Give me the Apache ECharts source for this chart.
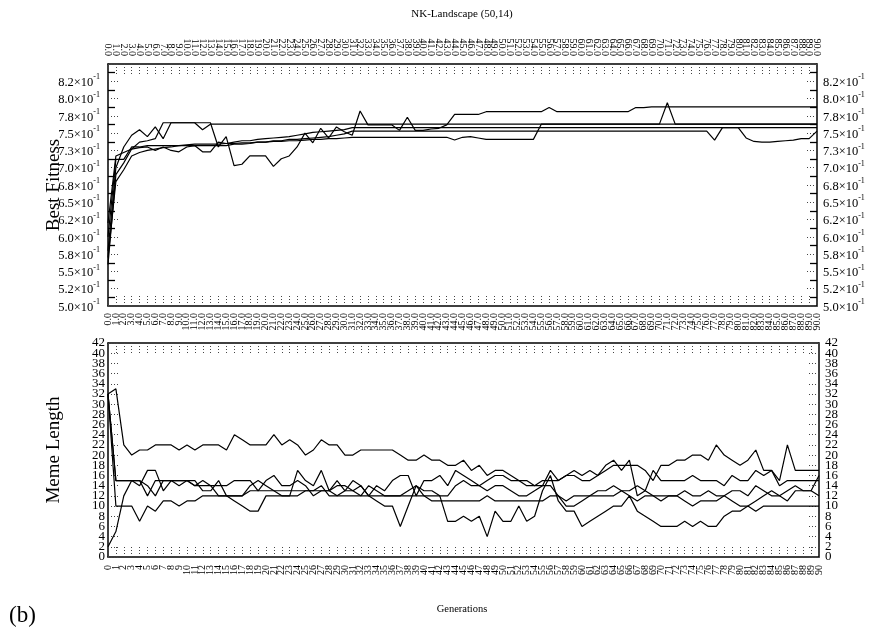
<!DOCTYPE html>
<html>
<head>
<meta charset="utf-8">
<script src="https://cdn.jsdelivr.net/npm/echarts@6.0.0/dist/echarts.min.js"></script>
<style>
html,body{margin:0;padding:0;background:#fff;}
#chart{width:869px;height:634px;}
</style>
</head>
<body>
<div id="chart"></div>
<script>
// ---------------- data ----------------
const generations = [];
for (let g = 0; g <= 90; g++) generations.push(g);
const topTickLabels = generations.map(g => g.toFixed(1));
const bottomTickLabels = generations.map(g => String(g));

const fitnessTickLabels = ['5.0','5.2','5.5','5.8','6.0','6.2','6.5','6.8','7.0','7.3','7.5','7.8','8.0','8.2'];
const memeTickLabelsA = [0,4,8,12,16,20,24,28,32,36,40];
const memeTickLabelsB = [2,6,10,14,18,22,26,30,34,38,42];

const fitness1 = [0.58,0.70,0.730,0.747,0.755,0.745,0.759,0.742,0.765,0.765,0.765,0.765,0.755,0.763,
0.763,0.763,0.763,0.763,0.763,0.763,0.763,0.763,0.763,0.763,0.763,0.763,0.763,0.763,0.763,0.763,
0.763,0.763,0.763,0.763,0.763,0.763,0.763,0.763,0.763,0.763,0.763,0.763,0.763,0.763,0.763,0.763,
0.763,0.763,0.763,0.763,0.763,0.763,0.763,0.763,0.763,0.763,0.763,0.763,0.763,0.763,0.763,0.763,
0.763,0.763,0.763,0.763,0.763,0.763,0.763,0.763,0.763,0.794,0.763,0.763,0.763,0.763,0.763,0.763,
0.763,0.763,0.763,0.763,0.763,0.763,0.763,0.763,0.763,0.763,0.763,0.763,0.763];
const fitness2 = [0.56,0.69,0.707,0.727,0.737,0.739,0.742,0.765,0.765,0.765,0.765,0.765,0.765,0.765,
0.730,0.745,0.703,0.705,0.717,0.717,0.717,0.702,0.713,0.717,0.730,0.750,0.736,0.757,0.743,0.759,0.752,0.747,
0.782,0.762,0.762,0.762,0.762,0.754,0.773,0.754,0.754,0.756,0.757,0.762,
0.777,0.777,0.777,0.777,0.781,0.781,0.781,0.781,0.781,0.781,0.781,0.781,
0.787,
0.781,0.781,0.781,0.781,0.781,0.781,0.781,0.781,0.781,0.781,
0.787,0.787,
0.788,0.788,0.788,0.788,0.788,0.788,0.788,0.788,0.788,0.788,0.788,0.788,0.788,0.788,0.788,0.788,0.788,0.788,0.788,0.788,0.788,0.788];
const fitness3 = [0.60,0.712,0.712,0.730,0.730,
0.732,0.732,0.732,0.732,0.732,0.732,0.732,0.732,0.732,0.732,0.732,
0.734,0.734,0.735,0.737,0.737,0.739,0.739,0.741,0.741,0.742,0.743,0.744,0.745,0.747,0.749,
0.753,0.753,0.753,0.753,0.753,0.753,0.753,0.753,0.753,0.753,0.753,0.753,0.753,0.753,0.753,0.753,
0.753,0.753,0.753,0.753,0.753,0.753,0.753,0.753,0.753,0.753,0.753,0.753,0.753,0.753,0.753,0.753,
0.753,0.753,0.753,0.753,0.753,0.753,0.753,0.753,0.753,0.753,0.753,0.753,0.753,0.753,
0.740,0.758,0.758,0.758,
0.743,0.738,0.737,0.737,0.738,0.739,0.740,0.742,0.742,
0.753];
const fitness4 = [0.62,0.717,0.722,0.727,0.729,0.730,0.725,0.730,0.725,0.723,0.730,0.732,
0.723,0.723,
0.737,0.735,0.737,0.739,0.739,0.741,0.742,0.743,0.744,0.745,0.747,0.749,0.751,0.752,0.753,0.754,0.755,
0.758,0.758,0.758,0.758,0.758,0.758,0.758,0.758,0.758,0.758,0.758,0.758,0.758,0.758,0.758,0.758,
0.758,0.758,0.758,0.758,0.758,0.758,0.758,0.758,0.758,0.758,0.758,0.758,0.758,0.758,0.758,0.758,
0.758,0.758,0.758,0.758,0.758,0.758,0.758,0.758,0.758,0.758,0.758,0.758,0.758,0.758,0.758,0.758,
0.758,0.758,0.758,0.758,0.758,0.758,0.758,0.758,0.758,0.758,0.758,0.758];
const fitness5 = [0.57,0.68,0.697,0.717,0.722,0.725,0.727,0.729,0.730,0.732,0.733,0.734,0.734,0.734,0.734,
0.735,0.735,0.736,0.736,0.737,0.737,0.738,0.738,0.739,0.739,0.740,0.741,0.741,0.742,0.742,0.743,
0.744,0.744,0.744,0.744,0.744,0.744,0.744,0.744,0.744,0.744,0.744,0.744,0.744,
0.740,0.744,0.745,0.743,0.741,0.741,0.741,0.741,0.741,0.741,0.741,
0.763,0.763,0.763,0.763,0.763,0.763,0.763,0.763,0.763,0.763,0.763,0.763,0.763,0.763,0.763,0.763,0.763,0.763,
0.763,0.763,0.763,0.763,0.763,0.763,0.763,0.763,0.763,0.763,0.763,0.763,0.763,0.763,0.763,0.763,0.763,0.763];

const meme1 = [32,33,22,20,21,21,22,22,22,21,22,21,22,22,22,21,24,23,22,22,22,24,22,23,22,20,21,23,22,22,20,20,21,21,21,21,21,20,19,19,20,19,19,18,18,19,
17,18,16,17,17,16,15,15,14,14,17,15,16,17,16,17,16,18,19,17,19,12,13,12,12,12,12,13,12,12,13,12,12,13,13,12,14,13,12,12,13,14,13,13,12];
const meme2 = [32,15,15,15,14,17,17,13,15,15,15,15,13,13,15,12,12,12,14,15,14,13,12,12,17,15,14,17,13,15,13,15,14,12,14,13,15,16,16,12,15,15,16,14,17,16,
15,14,15,16,16,15,15,14,14,15,15,15,16,16,15,15,16,17,18,18,18,18,17,15,18,18,19,19,20,20,19,22,20,19,18,19,21,17,17,15,22,17,17,17,17];
const meme3 = [32,10,10,10,7,10,9,11,11,10,11,11,12,12,12,12,11,10,9,9,12,12,12,12,12,13,13,14,12,12,13,13,14,12,11,10,10,6,10,14,12,12,12,7,7,8,
7,8,4,9,7,7,10,7,8,13,16,11,9,9,6,7,8,9,10,10,12,9,8,7,6,6,6,7,6,7,6,6,8,9,9,10,11,12,13,12,11,13,13,13,16];
const meme4 = [2,5,12,15,15,14,12,15,15,15,15,14,15,14,14,14,15,15,15,13,15,16,14,14,15,14,12,13,13,14,14,13,12,14,13,12,12,12,13,14,13,13,12,12,14,15,
14,14,13,14,14,13,12,12,13,14,14,12,11,12,12,12,13,13,14,13,13,14,13,17,15,15,15,15,16,15,15,15,14,16,15,15,17,16,17,14,15,15,15,15,15];
const meme5 = [32,15,15,15,15,12,15,15,15,14,15,14,14,14,12,12,12,12,13,13,13,13,13,13,13,13,13,13,13,12,12,12,12,12,12,12,12,12,12,12,12,11,11,11,11,11,
11,11,12,11,11,11,11,11,11,11,12,12,10,10,11,12,12,12,12,13,12,11,12,12,11,12,12,11,10,11,11,11,12,11,10,10,9,10,10,10,10,10,10,10,10];

const fitnessSeries = [fitness1, fitness2, fitness3, fitness4, fitness5];
const memeSeries = [meme1, meme2, meme3, meme4, meme5];

// ---------------- chart ----------------
const FONT = '"Liberation Serif", "DejaVu Serif", serif';
const chart = echarts.init(document.getElementById('chart'), null, {renderer: 'canvas'});

const dottedTick = (len) => ({show: true, inside: true, length: len, alignWithLabel: true,
  lineStyle: {color: '#444', width: 1, type: [1, 2]}});
const frameLine = {show: true, onZero: false, lineStyle: {color: '#000', width: 1.5}};

function fitnessLabel(v) {
  const i = Math.round((v - 0.5) / 0.025);
  const t = fitnessTickLabels[i];
  return t ? '{m|' + t + '×10}{e|-1}' : '';
}
const fitnessRich = {
  m: {fontFamily: FONT, fontSize: 12.5, color: '#000', lineHeight: 16, verticalAlign: 'bottom'},
  e: {fontFamily: FONT, fontSize: 8, color: '#000', lineHeight: 10, verticalAlign: 'top'}
};

function xAxisDef(gridIndex, position, labels, showLabels, margin) {
  return {
    type: 'category', gridIndex: gridIndex, position: position, data: generations, boundaryGap: false,
    axisLine: frameLine,
    axisTick: dottedTick(11),
    axisLabel: {show: showLabels, interval: 0, rotate: 90, margin: margin, fontFamily: FONT, fontSize: 10,
      color: '#000', formatter: (v, i) => labels[i]},
    splitLine: {show: false}
  };
}

function fitnessY(position, margin) {
  return {
    type: 'value', gridIndex: 0, position: position, min: 0.5, max: 0.85, interval: 0.025,
    axisLine: frameLine,
    axisTick: dottedTick(12),
    minorTick: {show: true, splitNumber: 2, length: 7, lineStyle: {color: '#000', width: 1.3}},
    axisLabel: {show: true, margin: margin, formatter: fitnessLabel, rich: fitnessRich,
      showMinLabel: true, showMaxLabel: true},
    splitLine: {show: false}, minorSplitLine: {show: false}
  };
}

// main meme axis: frame line, dotted ticks every 2, labels at 0,4,...,40
function memeY(position, margin) {
  return {
    type: 'value', gridIndex: 1, position: position, min: 0, max: 42, interval: 2,
    axisLine: frameLine,
    axisTick: dottedTick(12),
    axisLabel: {show: true, margin: margin, fontFamily: FONT, fontSize: 13, color: '#000',
      customValues: memeTickLabelsA, showMinLabel: true, showMaxLabel: true, hideOverlap: false,
      formatter: v => String(v)},
    splitLine: {show: false}
  };
}
// companion axis: labels at 2,6,...,42 only
function memeYLabels(position, margin) {
  return {
    type: 'value', gridIndex: 1, position: position, min: 0, max: 42, interval: 2,
    axisLine: {show: false}, axisTick: {show: false},
    axisLabel: {show: true, margin: margin, fontFamily: FONT, fontSize: 13, color: '#000',
      customValues: memeTickLabelsB, showMinLabel: true, showMaxLabel: true, hideOverlap: false,
      formatter: v => String(v)},
    splitLine: {show: false}
  };
}

const series = [];
fitnessSeries.forEach((d, i) => series.push({
  type: 'line', name: 'fit' + i, xAxisIndex: 0, yAxisIndex: 0, data: d, symbol: 'none',
  lineStyle: {color: '#000', width: 1.2}, silent: true
}));
memeSeries.forEach((d, i) => series.push({
  type: 'line', name: 'meme' + i, xAxisIndex: 2, yAxisIndex: 2, data: d, symbol: 'none',
  lineStyle: {color: '#000', width: 1.2}, silent: true
}));

const option = {
  animation: false,
  backgroundColor: '#fff',
  grid: [
    {left: 108, top: 64, width: 709, height: 242, outerBoundsMode: 'none', containLabel: false},
    {left: 108, top: 343, width: 711, height: 214, outerBoundsMode: 'none', containLabel: false}
  ],
  xAxis: [
    xAxisDef(0, 'bottom', topTickLabels, true, 7),
    xAxisDef(0, 'top', topTickLabels, true, 8),
    xAxisDef(1, 'bottom', bottomTickLabels, true, 8),
    xAxisDef(1, 'top', bottomTickLabels, false, 8)
  ],
  yAxis: [
    fitnessY('left', 8),
    fitnessY('right', 6),
    memeY('left', 3),
    memeY('right', 6),
    memeYLabels('left', 3),
    memeYLabels('right', 6)
  ],
  series: series,
  graphic: [
    {type: 'text', x: 462, y: 14, style: {text: 'NK-Landscape (50,14)', font: '11px ' + FONT, fill: '#000', textAlign: 'center', textVerticalAlign: 'middle'}},
    {type: 'text', x: 54, y: 185, rotation: Math.PI / 2, style: {text: 'Best Fitness', font: '19px ' + FONT, fill: '#000', textAlign: 'center', textVerticalAlign: 'middle'}},
    {type: 'text', x: 54, y: 450, rotation: Math.PI / 2, style: {text: 'Meme Length', font: '19px ' + FONT, fill: '#000', textAlign: 'center', textVerticalAlign: 'middle'}},
    {type: 'text', x: 462, y: 609, style: {text: 'Generations', font: '10.5px ' + FONT, fill: '#000', textAlign: 'center', textVerticalAlign: 'middle'}},
    {type: 'text', x: 9, y: 616, style: {text: '(b)', font: '23px ' + FONT, fill: '#000', textAlign: 'left', textVerticalAlign: 'middle'}}
  ]
};
chart.setOption(option);
</script>
</body>
</html>
